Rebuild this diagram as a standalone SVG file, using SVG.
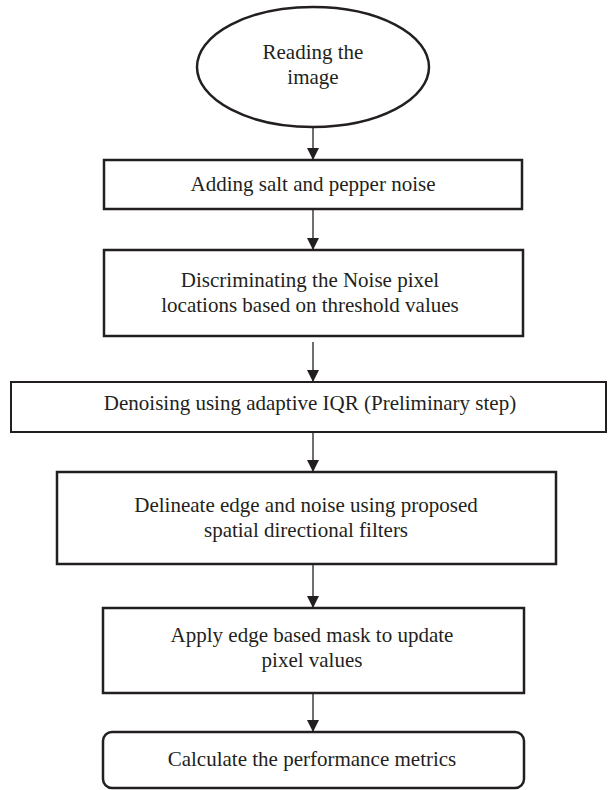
<svg xmlns="http://www.w3.org/2000/svg" width="608" height="790" viewBox="0 0 608 790">
  <style>
    .box { fill: #ffffff; stroke: #231f20; stroke-width: 2.5; }
    .thin { stroke-width: 2; }
    .lbl { font-family: "Liberation Serif", "Times New Roman", serif; font-size: 21px; fill: #231f20; text-anchor: middle; }
    .conn { stroke: #231f20; stroke-width: 1.3; fill: none; marker-end: url(#arrow); }
  </style>
  <defs>
    <marker id="arrow" viewBox="0 0 12 12" refX="12" refY="6" markerWidth="12" markerHeight="12" markerUnits="userSpaceOnUse" orient="auto">
      <path d="M0,0 L12,6 L0,12 Z" fill="#231f20"/>
    </marker>
  </defs>
  <rect width="608" height="790" fill="#ffffff"/>

  <g id="n1">
    <ellipse class="box" cx="313" cy="67" rx="116" ry="60"/>
    <text class="lbl" x="313" y="59">Reading the</text>
    <text class="lbl" x="313" y="84">image</text>
  </g>
  <g id="n2">
    <rect class="box" x="104" y="160" width="418" height="49"/>
    <text class="lbl" x="313" y="191">Adding salt and pepper noise</text>
  </g>
  <g id="n3">
    <rect class="box" x="104" y="250" width="419" height="86"/>
    <text class="lbl" x="310" y="287">Discriminating the Noise pixel</text>
    <text class="lbl" x="310" y="312">locations based on threshold values</text>
  </g>
  <g id="n4">
    <rect class="box thin" x="11" y="382" width="595" height="50"/>
    <text class="lbl" x="310" y="410">Denoising using adaptive IQR (Preliminary step)</text>
  </g>
  <g id="n5">
    <rect class="box" x="57" y="472" width="499" height="92"/>
    <text class="lbl" x="306" y="512">Delineate edge and noise using proposed</text>
    <text class="lbl" x="306" y="537">spatial directional filters</text>
  </g>
  <g id="n6">
    <rect class="box" x="103" y="608" width="421" height="85"/>
    <text class="lbl" x="312" y="642">Apply edge based mask to update</text>
    <text class="lbl" x="312" y="667">pixel values</text>
  </g>
  <g id="n7">
    <rect class="box" x="103" y="732" width="421" height="56" rx="9" ry="9"/>
    <text class="lbl" x="312" y="766">Calculate the performance metrics</text>
  </g>

  <g id="connectors">
    <line class="conn" x1="313" y1="128" x2="313" y2="160"/>
    <line class="conn" x1="313" y1="209" x2="313" y2="250"/>
    <line class="conn" x1="313" y1="342" x2="313" y2="382"/>
    <line class="conn" x1="313" y1="432" x2="313" y2="472"/>
    <line class="conn" x1="313" y1="564" x2="313" y2="608"/>
    <line class="conn" x1="313" y1="693" x2="313" y2="732"/>
  </g>
</svg>
